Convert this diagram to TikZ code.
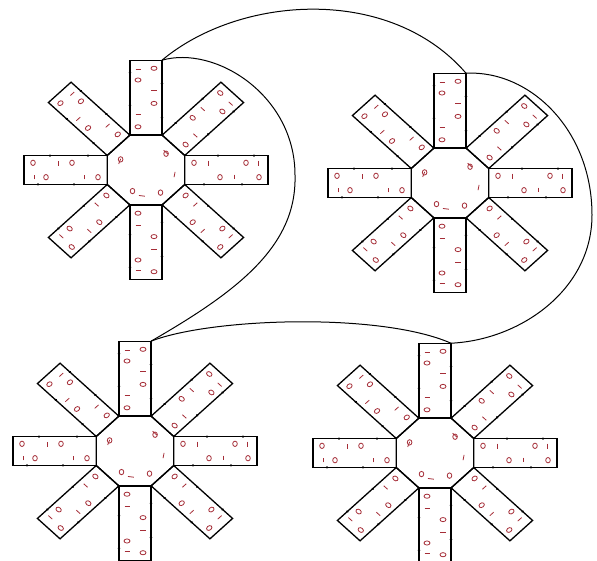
\documentclass[tikz,border=0pt]{standalone}
\usepackage{xcolor}
\usepackage{tikz}
\definecolor{markred}{RGB}{165,45,55}

\begin{document}
\begin{tikzpicture}[x=1pt,y=-1pt,
    outline/.style={line width=1.3pt,line join=miter},
    link/.style={line width=1pt},
    redmark/.style={markred,line width=0.8pt},
    edgedot/.style={fill=black}]
  \fill[white] (0,0) rectangle (597,560);
  \useasboundingbox (0,0) rectangle (597,560);
  \foreach \cx/\cy/\n in {146/170/1, 450/183/2, 135/451/3, 435/453/4} {
    \begin{scope}[shift={(\cx,\cy)},yscale=0.9]
      \draw[outline] (22.5:42) -- (67.5:42) -- (112.5:42) -- (157.5:42) -- (202.5:42)
        -- (247.5:42) -- (292.5:42) -- (337.5:42) -- cycle;
      \foreach \a/\m in {0/1,45/-1,90/1,135/-1,180/1,225/-1,270/-1,315/1} {
        \begin{scope}[rotate=\a,yscale=\m]
          \draw[outline] (38.8,-16) rectangle (122,16);
          \draw[redmark] (48,-8) ellipse [x radius=2.3,y radius=3];
          \draw[redmark] (74,8) ellipse [x radius=2.3,y radius=3];
          \draw[redmark] (100,-8) ellipse [x radius=2.3,y radius=3];
          \draw[redmark] (113,8) ellipse [x radius=2.3,y radius=3];
          \draw[redmark] (62,-10.5) -- (62,-5);
          \draw[redmark] (88,5) -- (88,10.5);
          \draw[redmark] (112,-10.5) -- (112,-5);
          \fill[edgedot] (58,16) circle (1.4);
          \fill[edgedot] (96,16) circle (1.4);
          \fill[edgedot] (72,-16) circle (1.4);
          \fill[edgedot] (108,-16) circle (1.4);
        \end{scope}
      }
      \draw[redmark] (120:27) ellipse [x radius=2.3,y radius=3];
      \draw[redmark] (205:28) ellipse [x radius=2.3,y radius=3];
      \draw[redmark] (318:27) ellipse [x radius=2.3,y radius=3];
      \draw[redmark] (60:29) ellipse [x radius=2.3,y radius=3];
      \draw[redmark,rotate=45] (28,-3) -- (28,3);
      \draw[redmark,rotate=160] (28,-3) -- (28,3);
      \draw[redmark,rotate=262] (29,-3) -- (29,3);
      \draw[redmark,rotate=350] (29,-3) -- (29,3);
      \coordinate (t\n) at (16,-122);
    \end{scope}
  }
  \draw[link] (t1) .. controls (240,-5) and (390,-15) .. (t2);
  \draw[link] (t1) .. controls (215,45) and (295,95) .. (295,175)
    .. controls (297,245) and (240,290) .. (t3);
  \draw[link] (t3) .. controls (210,318) and (380,312) .. (t4);
  \draw[link] (t2) .. controls (530,70) and (592,130) .. (592,215)
    .. controls (592,290) and (520,340) .. (t4);
\end{tikzpicture}
\end{document}
